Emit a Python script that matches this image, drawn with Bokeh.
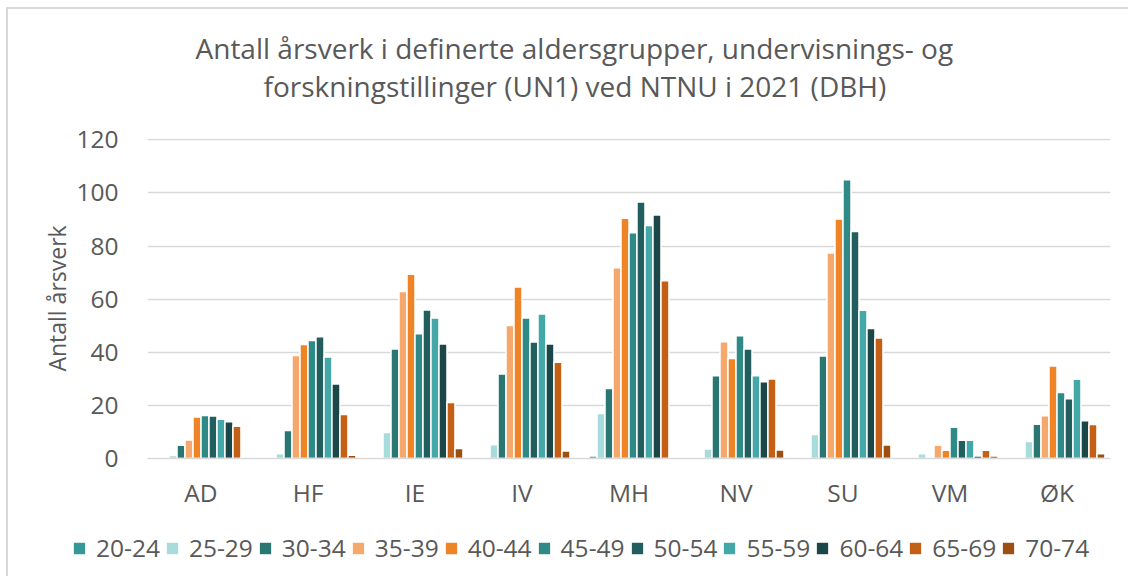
from bokeh.plotting import figure
from bokeh.layouts import column
from bokeh.models import (ColumnDataSource, FactorRange, Range1d, Legend,
                          LegendItem, SingleIntervalTicker, Title)
from bokeh.transform import dodge
from bokeh.embed import file_html
from bokeh.resources import INLINE

categories = ["AD", "HF", "IE", "IV", "MH", "NV", "SU", "VM", "ØK"]
series = ["20-24", "25-29", "30-34", "35-39", "40-44", "45-49",
          "50-54", "55-59", "60-64", "65-69", "70-74"]

v20_24 = [0, 0, 0.5, 0, 0.9, 0, 0, 0, 0]
v25_29 = [1.1, 1.8, 9.8, 5.2, 16.9, 3.6, 9.0, 1.8, 6.4]
v30_34 = [5.0, 10.5, 41.2, 31.8, 26.4, 31.2, 38.6, 0, 12.9]
v35_39 = [7.0, 38.8, 62.9, 50.1, 71.8, 44.0, 77.4, 5.0, 16.1]
v40_44 = [15.6, 42.9, 69.4, 64.6, 90.5, 37.7, 90.2, 3.1, 34.8]
v45_49 = [16.2, 44.4, 47.0, 52.9, 85.0, 46.2, 105.0, 11.8, 24.9]
v50_54 = [16.0, 45.8, 55.9, 43.9, 96.6, 41.2, 85.5, 6.9, 22.5]
v55_59 = [14.8, 38.2, 52.9, 54.4, 87.7, 31.2, 55.8, 6.9, 29.8]
v60_64 = [13.8, 28.1, 43.1, 43.1, 91.7, 28.9, 49.0, 0.9, 14.2]
v65_69 = [12.1, 16.6, 21.1, 36.2, 66.9, 29.9, 45.4, 3.1, 12.8]
v70_74 = [0.5, 1.2, 3.8, 2.8, 0.4, 3.2, 5.1, 0.9, 1.8]

values = [v20_24, v25_29, v30_34, v35_39, v40_44, v45_49,
          v50_54, v55_59, v60_64, v65_69, v70_74]

colors = ["#379796", "#A8DCDC", "#2A7672", "#F4A86C", "#EF8427", "#2F8A87",
          "#225E5E", "#45A8A8", "#1B4748", "#C46015", "#9B4F11"]

title_lines = ["Antall årsverk i definerte aldersgrupper, undervisnings- og",
               "forskningstillinger (UN1) ved NTNU i 2021 (DBH)"]
y_label = "Antall årsverk"

FONT = "Open Sans"
TXT = "#595959"
GRID = "#d9d9d9"
TICK_FS = "24.5px"

data = {"cat": categories}
for s, v in zip(series, values):
    data[s] = v
source = ColumnDataSource(data)

p = figure(x_range=FactorRange(*categories, range_padding=0),
           y_range=Range1d(0, 120.5),
           width=1120, height=515, output_backend="svg", toolbar_location=None,
           min_border_left=139, min_border_right=18, min_border_top=129,
           min_border_bottom=66, title=None)

p.outline_line_color = None
p.xgrid.grid_line_color = None
p.ygrid.grid_line_color = GRID
p.ygrid.grid_line_width = 1.5
p.yaxis.ticker = SingleIntervalTicker(interval=20)
p.yaxis.axis_line_color = None
p.yaxis.major_tick_line_color = None
p.yaxis.major_tick_out = 0
p.yaxis.minor_tick_line_color = None
p.yaxis.major_label_standoff = 25
p.yaxis.major_label_text_font = FONT
p.yaxis.major_label_text_font_size = TICK_FS
p.yaxis.major_label_text_color = TXT
p.yaxis.axis_label = y_label
p.yaxis.axis_label_text_font = FONT
p.yaxis.axis_label_text_font_size = "23px"
p.yaxis.axis_label_text_font_style = "normal"
p.yaxis.axis_label_text_color = TXT
p.yaxis.axis_label_standoff = 0
p.xaxis.axis_line_color = GRID
p.xaxis.axis_line_width = 1.5
p.xaxis.major_tick_line_color = None
p.xaxis.major_tick_out = 0
p.xaxis.minor_tick_line_color = None
p.xaxis.major_label_standoff = 17
p.xaxis.major_label_text_font = FONT
p.xaxis.major_label_text_font_size = TICK_FS
p.xaxis.major_label_text_color = TXT

pitch = 0.0747
for i, (s, c) in enumerate(zip(series, colors)):
    p.vbar(x=dodge("cat", (i - 4.5) * pitch, range=p.x_range), top=s,
           width=pitch, source=source, fill_color=c, line_color="white",
           line_width=1.5)

# spacer nearest the frame, then line 2, then line 1
p.add_layout(Title(text=" ", text_font_size="1px", standoff=31), "above")
p.add_layout(Title(text=title_lines[1], align="left", offset=116,
                   vertical_align="middle", standoff=-2,
                   text_font=FONT, text_font_size="28px",
                   text_font_style="normal", text_color=TXT), "above")
p.add_layout(Title(text=title_lines[0], align="left", offset=48,
                   vertical_align="middle", standoff=-2,
                   text_font=FONT, text_font_size="28px",
                   text_font_style="normal", text_color=TXT), "above")

# legend strip below the chart (its own frame spans the whole strip)
lg = figure(width=1120, height=52, output_backend="svg", toolbar_location=None,
            x_axis_location=None, y_axis_location=None,
            x_range=Range1d(0, 1), y_range=Range1d(0, 1),
            min_border_left=0, min_border_right=0, min_border_top=0,
            min_border_bottom=0, title=None)
try:
    lg.frame_align = False
except Exception:
    pass
lg.outline_line_color = None
lg.xgrid.grid_line_color = None
lg.ygrid.grid_line_color = None
proxy = ColumnDataSource({"x": [-5], "top": [0]})  # off-range legend proxies
items = []
for s, c in zip(series, colors):
    r = lg.vbar(x="x", top="top", width=0.1, source=proxy, fill_color=c,
                line_color="white", line_width=1.5)
    items.append(LegendItem(label=s, renderers=[r]))
legend = Legend(items=items, orientation="horizontal", location=(63, 12),
                padding=0, margin=0, border_line_color=None,
                background_fill_alpha=0,
                glyph_width=16, glyph_height=16, label_standoff=9, spacing=4,
                label_text_font=FONT, label_text_font_size=TICK_FS,
                label_text_color=TXT)
lg.add_layout(legend, "center")

layout = column(p, lg, spacing=0)
layout.styles = {"margin-left": "6px", "margin-top": "7px",
                 "border-left": "2px solid #d9d9d9",
                 "border-top": "2px solid #d9d9d9"}

open("out.html", "w").write(file_html(layout, INLINE))
